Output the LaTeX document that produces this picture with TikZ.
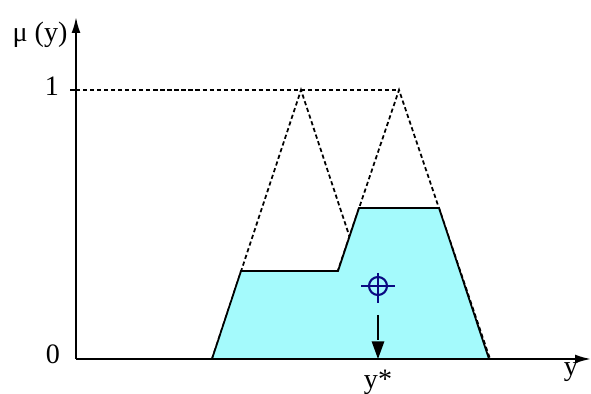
\documentclass[tikz,border=0pt]{standalone}
\usepackage{fontspec}
\setmainfont{Liberation Serif}
\usepackage{tikz}
\usetikzlibrary{arrows.meta,positioning,calc}
\definecolor{aggfill}{RGB}{164,250,252}
\definecolor{cogblue}{RGB}{10,10,130}
\tikzset{
  axisline/.style={-{Latex[length=9pt,width=5pt]}, line width=1.1pt},
  memb/.style={dashed, dash pattern=on 2.4pt off 1.6pt, line width=1pt},
  aggr/.style={fill=aggfill, draw=black, line width=1pt},
  lbl/.style={font=\fontsize{16}{18}\selectfont, inner sep=0pt},
  cogmark/.style={draw=cogblue, line width=1.2pt},
}
\begin{document}
\begin{tikzpicture}[x=0.02cm,y=0.02cm]
  \useasboundingbox (0,0) rectangle (591,394);
  \coordinate (O) at (76,35);
  \coordinate (ytop) at (76,377);
  \coordinate (xend) at (591,35);
  \coordinate (one) at (76,304);
  % membership functions (dashed)
  \coordinate (p1) at (301,304);
  \coordinate (p2) at (399,304);
  \draw[memb] (one) -- (p2);
  \draw[memb] (212,35) -- (p1) -- (390,35);
  \draw[memb] (308,35) -- (p2) -- (490,35);
  % aggregated clipped output
  \draw[aggr] (212,35) -- (241,123) -- (338,123) -- (359,186)
              -- (439,186) -- (489,35) -- cycle;
  % axes
  \draw[axisline] (O) -- (ytop);
  \draw[axisline] (O) -- (xend);
  \draw[line width=1pt] (70,304) -- (one);
  \node[lbl] (mulbl) at (40,359) {μ (y)};
  \node[lbl] (onelbl) at (52,308) {1};
  \node[lbl] (zerolbl) at (53,40) {0};
  \node[lbl] (ylbl) at (571,22) {y};
  % centre of gravity
  \node[circle, cogmark, minimum size=0.36cm, inner sep=0pt] (cog) at (378,108) {};
  \draw[cogmark] ($(cog)+(-17,0)$) -- ($(cog)+(17,0)$);
  \draw[cogmark] ($(cog)+(0,13)$) -- ($(cog)+(0,-17)$);
  \coordinate (ystar) at (378,35);
  \draw[dashed, dash pattern=on 14pt off 6pt, line width=1pt,
        -{Triangle[length=10pt,width=7pt]}] ($(cog)+(0,-29)$) -- (ystar);
  \node[lbl, below=6pt of ystar] (ystarlbl) {y*};
\end{tikzpicture}
\end{document}
